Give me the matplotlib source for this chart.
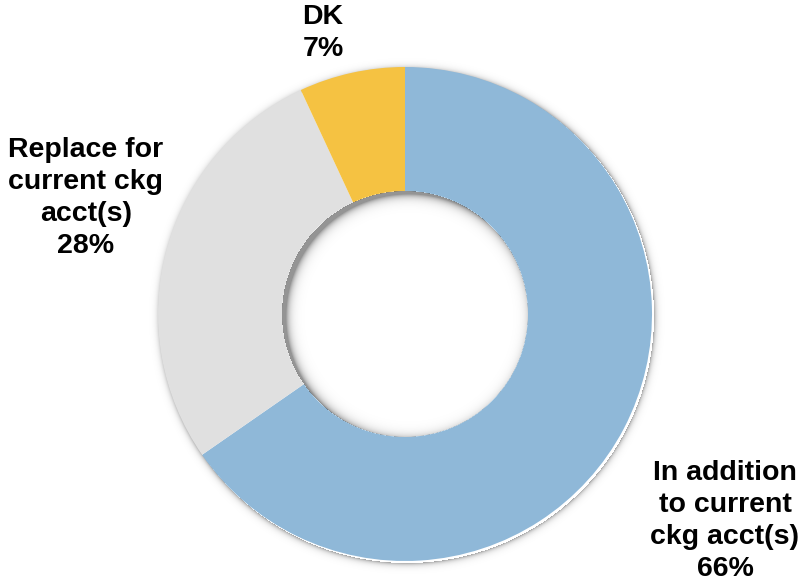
import numpy as np
import matplotlib
matplotlib.use("Agg")
import matplotlib.pyplot as plt
from matplotlib.patches import Circle

# ---- data ----
labels = ["In addition\nto current\nckg acct(s)", "Replace for\ncurrent ckg\nacct(s)", "DK"]
shares = [66, 28, 7]
colors = ["#8FB8D8", "#E0E0E0", "#F5C242"]

W, H = 802, 587
cx, cy = 405, H - 314      # donut centre in pixel units (y up)
R_OUT, R_IN = 247, 123

plt.rcParams["font.family"] = ["Liberation Sans", "DejaVu Sans"]

fig = plt.figure(figsize=(W / 100, H / 100), dpi=100, facecolor="white")
ax = fig.add_axes([0, 0, 1, 1])

# soft drop shadow round the outer edge
yy, xx = np.mgrid[0:H, 0:W] + 0.5
d_out = np.hypot(xx - (cx + 2), yy - (cy - 2)) - R_OUT
a_out = np.where(d_out > 0, 0.35 * np.exp(-d_out / 2.5), 0.0)
shade = np.zeros((H, W, 4))
shade[..., 3] = a_out
ax.imshow(shade, extent=(0, W, 0, H), origin="lower", zorder=1, interpolation="bilinear")

wedges, _ = ax.pie(shares, colors=colors, startangle=90, counterclock=False,
                   radius=R_OUT, center=(cx, cy), frame=True,
                   wedgeprops=dict(linewidth=0))
for w in wedges:
    w.set_zorder(2)

hole = Circle((cx, cy), R_IN, facecolor="white", edgecolor="none", zorder=3)
ax.add_patch(hole)

# inner shadow in the hole, darker on the upper-left rim
d_in = R_IN - np.hypot(xx - (cx + 4), yy - (cy - 3))
a_in = 0.42 * np.exp(-np.maximum(d_in, 0) / 4.0)
a_in = np.where(np.hypot(xx - cx, yy - cy) <= R_IN, a_in, 0.0)
inner = np.zeros((H, W, 4))
inner[..., 3] = a_in
ax.imshow(inner, extent=(0, W, 0, H), origin="lower", zorder=4, interpolation="bilinear")

ax.set_xlim(0, W)
ax.set_ylim(0, H)
ax.set_aspect("equal")
ax.axis("off")

txt = dict(fontsize=20.5, fontweight="bold", ha="center", va="center",
           linespacing=1.3, color="black", zorder=5)
ax.text(725, H - 521, f"{labels[0]}\n{shares[0]}%", **txt)
ax.text(86, H - 198, f"{labels[1]}\n{shares[1]}%", **txt)
ax.text(323, H - 33, f"{labels[2]}\n{shares[2]}%", **txt)

fig.savefig("out.png", dpi=100, facecolor="white")
